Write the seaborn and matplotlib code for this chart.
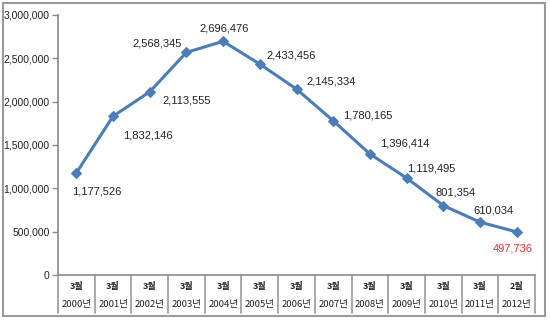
import matplotlib
matplotlib.use("Agg")
import matplotlib.pyplot as plt
import seaborn as sns
import pandas as pd
from matplotlib.patches import Rectangle
from matplotlib.transforms import blended_transform_factory

# Data
years = ["2000년", "2001년", "2002년", "2003년", "2004년", "2005년", "2006년",
         "2007년", "2008년", "2009년", "2010년", "2011년", "2012년"]
months = ["3월"] * 12 + ["2월"]
values = [1177526, 1832146, 2113555, 2568345, 2696476, 2433456, 2145334,
          1780165, 1396414, 1119495, 801354, 610034, 497736]
y_ticks = [0, 500000, 1000000, 1500000, 2000000, 2500000, 3000000]

df = pd.DataFrame({"pos": range(len(values)), "value": values})

sns.set_theme(style="white")
plt.rcParams["font.family"] = ["Liberation Sans", "Noto Sans CJK KR", "DejaVu Sans"]

W, H = 550, 325
fig = plt.figure(figsize=(W / 100, H / 100), dpi=100)
ax = fig.add_axes([58 / W, 1 - 275 / H, (535 - 58) / W, 260 / H])

line_color = "#4a7dbb"
sns.lineplot(data=df, x="pos", y="value", ax=ax, color=line_color, linewidth=2.2,
             marker="D", markersize=5.5, markeredgecolor=line_color)

ax.set_xlim(-0.5, len(values) - 0.5)
ax.set_ylim(0, 3000000)
ax.set_yticks(y_ticks)
ax.set_yticklabels([f"{v:,}" for v in y_ticks], fontsize=7.5, color="#222222")
ax.set_xticks([])
ax.set_xlabel("")
ax.set_ylabel("")

for side in ("top", "right"):
    ax.spines[side].set_visible(False)
for side in ("left", "bottom"):
    ax.spines[side].set_color("#8a8a8a")
    ax.spines[side].set_linewidth(1.2)
ax.tick_params(axis="y", which="both", left=True, length=4, width=1,
               color="#8a8a8a", pad=2)

# Value labels: (ha, dx, dy) in pixels, dy positive downward
label_pos = [("left", -4, 19), ("left", 10, 19), ("left", 13, 9), ("right", -5, -9),
             ("center", 1, -13), ("left", 7, -9), ("left", 10, -8), ("left", 10, -5),
             ("left", 10, -10), ("center", 25, -9), ("center", 12, -13),
             ("center", 13, -12), ("center", -4, 17)]
for i, (v, (ha, dx, dy)) in enumerate(zip(values, label_pos)):
    color = "#ff2a2a" if i == len(values) - 1 else "#222222"
    ax.annotate(f"{v:,}", (i, v), xytext=(dx, -dy), textcoords="offset pixels",
                ha=ha, va="center", fontsize=8, color=color)

# Category table below the axis
trans = blended_transform_factory(ax.transData, ax.transAxes)
bottom = -(313 - 275) / 260
for k in range(len(values) + 1):
    ax.plot([k - 0.5, k - 0.5], [0, bottom], transform=trans, color="#9a9a9a",
            linewidth=1.2, clip_on=False)
cjk = ["Noto Sans CJK KR", "DejaVu Sans"]
for i, (m, yr) in enumerate(zip(months, years)):
    ax.text(i, -(287 - 275) / 260, m, transform=trans, ha="center", va="center",
            fontsize=6.5, fontweight="bold", color="#222222", family=cjk)
    ax.text(i, -(305 - 275) / 260, yr, transform=trans, ha="center", va="center",
            fontsize=6.8, fontweight="medium", color="#222222", family=cjk)

# Outer frame
fig.patches.append(Rectangle((3 / W, 1 - 316 / H), (545 - 3) / W, (316 - 3) / H,
                             transform=fig.transFigure, fill=False,
                             edgecolor="#9a9a9a", linewidth=1.5))

fig.savefig("out.png", dpi=100)
